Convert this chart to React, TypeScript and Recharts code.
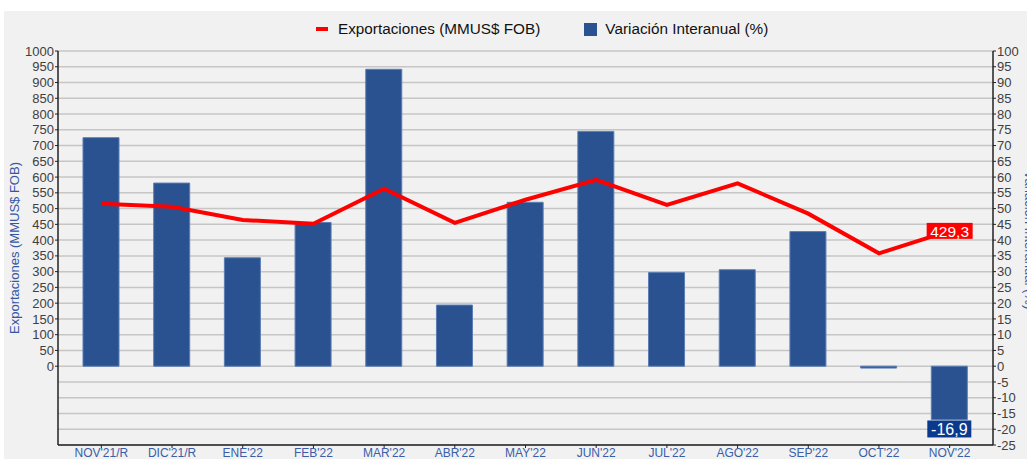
import React from "react";
import { ComposedChart, Bar, Line, XAxis, YAxis, CartesianGrid, LabelList } from "recharts";

const categories = ["NOV'21/R", "DIC'21/R", "ENE'22", "FEB'22", "MAR'22", "ABR'22", "MAY'22", "JUN'22", "JUL'22", "AGO'22", "SEP'22", "OCT'22", "NOV'22"];
const exportaciones = [515, 506, 464, 452, 563, 455, 528, 591, 512, 580, 484, 358, 429.3];
const variacion = [72.5, 58.1, 34.4, 45.6, 94.2, 19.4, 52.0, 74.5, 29.7, 30.6, 42.7, -0.6, -16.9];
const leftTicks = [0, 50, 100, 150, 200, 250, 300, 350, 400, 450, 500, 550, 600, 650, 700, 750, 800, 850, 900, 950, 1000];
const rightTicks = [-25, -20, -15, -10, -5, 0, 5, 10, 15, 20, 25, 30, 35, 40, 45, 50, 55, 60, 65, 70, 75, 80, 85, 90, 95, 100];

const data = categories.map((c, i) => ({ cat: c, exp: exportaciones[i], vari: variacion[i] }));

const FONT = "'Liberation Sans', Arial, sans-serif";
const fmt = (v: number) => String(v).replace(".", ",");

const LineLabel = (props: any) => {
  const { x, y, value, index } = props;
  if (index !== data.length - 1) return null;
  const w = 46, h = 16;
  return (
    <g>
      <rect x={x - w / 2} y={y - h / 2} width={w} height={h} fill="#ff0000" />
      <text x={x} y={y + 1} textAnchor="middle" dominantBaseline="central" fill="#fff" fontSize={15.5} fontFamily={FONT}>{fmt(value)}</text>
    </g>
  );
};

const BarLabel = (props: any) => {
  const { x, y, width, height, value, index } = props;
  if (index !== data.length - 1) return null;
  const bottom = Math.max(y, y + height);
  const cx = x + width / 2;
  const w = 44, h = 17;
  return (
    <g>
      <rect x={cx - w / 2} y={bottom + 1} width={w} height={h} fill="#0a3a8e" />
      <text x={cx} y={bottom + 1 + h / 2 + 1} textAnchor="middle" dominantBaseline="central" fill="#fff" fontSize={16} fontFamily={FONT}>{fmt(value)}</text>
    </g>
  );
};

export default function App() {
  return (
    <div style={{ position: "absolute", left: 0, top: 0, width: 1027, height: 459, background: "#fff", overflow: "hidden", fontFamily: FONT }}>
      <div style={{ position: "absolute", left: 4, top: 11, width: 1023, height: 448, background: "#f1f1f1" }} />
      <div style={{ position: "absolute", left: 0, top: 0 }}>
        <ComposedChart width={1027} height={459} data={data} margin={{ top: 51, right: 0, bottom: 0, left: 2 }}>
          <CartesianGrid yAxisId="right" vertical={false} stroke="#c6c6c6" strokeWidth={1.5} />
          <XAxis dataKey="cat" xAxisId={0} height={14} padding={{ left: 8, right: 8 }} interval={0}
            tick={{ fill: "#3a5ea8", fontSize: 12, fontFamily: FONT }} tickSize={3} tickMargin={0}
            axisLine={{ stroke: "#222", strokeWidth: 1.5 }} tickLine={{ stroke: "#222" }} />
          <YAxis yAxisId="left" orientation="left" width={56} domain={[-250, 1000]} ticks={leftTicks} interval={0}
            allowDataOverflow tick={{ fill: "#404040", fontSize: 13, fontFamily: FONT }} tickSize={3} tickMargin={1}
            axisLine={{ stroke: "#222", strokeWidth: 1.5 }} tickLine={{ stroke: "#222" }}
            label={{ content: () => (
              <text x={14} y={248} transform="rotate(-90 14 248)" textAnchor="middle" dominantBaseline="central" fill="#3357a5" fontSize={13} fontFamily={FONT}>Exportaciones (MMUS$ FOB)</text>
            ) }} />
          <YAxis yAxisId="right" orientation="right" width={34} domain={[-25, 100]} ticks={rightTicks} interval={0}
            allowDataOverflow tick={{ fill: "#404040", fontSize: 13, fontFamily: FONT }} tickSize={3} tickMargin={1}
            axisLine={{ stroke: "#222", strokeWidth: 1.5 }} tickLine={{ stroke: "#222" }}
            label={{ content: () => (
              <text x={1029} y={240} transform="rotate(90 1029 240)" textAnchor="middle" dominantBaseline="central" fill="#3357a5" fontSize={13} fontFamily={FONT}>Variación Interanual (%)</text>
            ) }} />
          <Bar yAxisId="right" dataKey="vari" barSize={36} fill="#2a5190" stroke="#5a7db3" strokeWidth={1} isAnimationActive={false}>
            <LabelList dataKey="vari" content={BarLabel} />
          </Bar>
          <Line yAxisId="left" dataKey="exp" type="linear" stroke="#ff0000" strokeWidth={4} dot={false} activeDot={false} isAnimationActive={false}>
            <LabelList dataKey="exp" content={LineLabel} />
          </Line>
        </ComposedChart>
      </div>
      <div style={{ position: "absolute", left: 316, top: 20, height: 18, display: "flex", alignItems: "center", fontSize: 15.3, color: "#111", whiteSpace: "nowrap" }}>
        <span style={{ display: "inline-block", width: 12, height: 4, background: "#ff0000", marginRight: 10 }} />
        <span>Exportaciones (MMUS$ FOB)</span>
        <span style={{ display: "inline-block", width: 13, height: 13, background: "#2a5190", marginLeft: 44, marginRight: 8 }} />
        <span>Variación Interanual (%)</span>
      </div>
    </div>
  );
}
